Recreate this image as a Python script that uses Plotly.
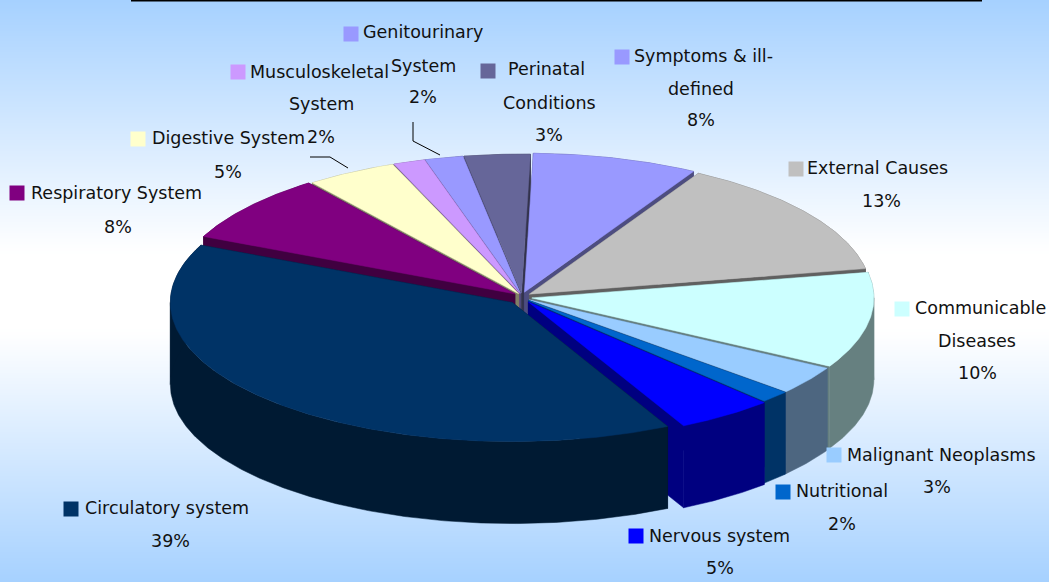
import numpy as np
import plotly.graph_objects as go

# Clockwise from 12 o'clock
categories = ["Symptoms & ill-defined", "External Causes", "Communicable Diseases", "Malignant Neoplasms",
              "Nutritional", "Nervous system", "Circulatory system", "Respiratory System",
              "Digestive System", "Musculoskeletal System", "Genitourinary System", "Perinatal Conditions"]
# Printed percentages
percent_labels = ["8%", "13%", "10%", "3%", "2%", "5%", "39%", "8%", "5%", "2%", "2%", "3%"]
# Slice shares as they measure on the picture (the 3-D tilt widens some)
shares = [7.8, 13.8, 11.1, 3.3, 1.4, 4.6, 39.2, 7.9, 4.3, 1.5, 1.8, 3.1]
top_colors = ["#9999FF", "#C0C0C0", "#CCFFFF", "#99CCFF", "#0066CC", "#0000FF",
              "#003366", "#800080", "#FFFFCC", "#CC99FF", "#9999FF", "#666699"]
wall_colors = ["#4D4D80", "#606060", "#668080", "#4D6680", "#003366", "#000080",
               "#001A33", "#400040", "#808066", "#664D80", "#4D4D80", "#33334D"]
explode = [9, 9, 10, 9, 9, 11, 14, 9, 7, 7, 7, 7]
draw_order = [11, 0, 10, 9, 1, 8, 7, 2, 3, 4, 5, 6]

label_lines = [
    ["Symptoms & ill-", "defined"], ["External Causes"], ["Communicable", "Diseases"],
    ["Malignant Neoplasms"], ["Nutritional"], ["Nervous system"], ["Circulatory system"],
    ["Respiratory System"], ["Digestive System"], ["Musculoskeletal", "System"],
    ["Genitourinary", "System"], ["Perinatal", "Conditions"],
]
key_xy = [(622, 57), (796, 169), (902, 309), (834, 455), (783, 492), (636, 536),
          (71, 509), (17, 193), (138, 139), (238, 72), (351, 34), (488, 71)]
first_line_x = [632, 805, 913, 845, 794, 647, 83, 29, 150, 248, 361, 506]
first_line_y = [56, 168, 308, 455, 491, 536, 508, 193, 138, 72, 32, 69]
center_x = [701, 881, 977, 937, 842, 720, 170, 118, 228, 321, 423, 549]
more_y = [[89, 120], [201], [341, 373], [487], [524], [568], [541], [227], [172],
          [104, 137], [66, 97], [103, 135]]

CX, CY, RX, RY, DEPTH, START = 522, 297, 342, 139, 82, 1.5
W, H = 1049, 582

fig = go.Figure()

# background gradient
gy = np.linspace(0, H, 60)
fig.add_trace(go.Heatmap(x=[0, W], y=gy,
                         z=[[max(0, abs(v - 291) - 40) / 251] * 2 for v in gy],
                         colorscale=[[0, "#FFFFFF"], [1, "#A6D1FF"]], zmin=0, zmax=1,
                         zsmooth="best", showscale=False, hoverinfo="skip"))

frac = np.array(shares) / sum(shares) * 360
ends = START + np.cumsum(frac)
starts = ends - frac


def poly(xs, ys, color):
    fig.add_trace(go.Scatter(x=list(xs) + [xs[0]], y=list(ys) + [ys[0]], mode="lines", fill="toself",
                             fillcolor=color, line=dict(color=color, width=0.5),
                             hoverinfo="skip", showlegend=False))


for i in draw_order:
    a = np.radians(np.linspace(starts[i], ends[i], max(6, int(frac[i] * 2))))
    mid = np.radians((starts[i] + ends[i]) / 2)
    ox = CX + explode[i] * np.sin(mid)
    oy = CY - 0.55 * explode[i] * np.cos(mid)
    ax = ox + RX * np.sin(a)
    ay = oy - RY * np.cos(a)
    # radial faces
    for k in (0, -1):
        poly([ox, ax[k], ax[k], ox], [oy, ay[k], ay[k] + DEPTH, oy + DEPTH], wall_colors[i])
    # outer wall, split at the left and right extremes so its outline never crosses itself
    cuts = [starts[i]] + [c for c in (90, 270) if starts[i] < c < ends[i]] + [ends[i]]
    for c0, c1 in zip(cuts[:-1], cuts[1:]):
        b = np.radians(np.linspace(c0, c1, max(4, int((c1 - c0) * 2))))
        bx = ox + RX * np.sin(b)
        by = oy - RY * np.cos(b)
        poly(np.r_[bx, bx[::-1]], np.r_[by, by[::-1] + DEPTH], wall_colors[i])
    # top
    poly(np.r_[ox, ax], np.r_[oy, ay], top_colors[i])

# legend keys
fig.add_trace(go.Scatter(x=[p[0] for p in key_xy], y=[p[1] for p in key_xy], mode="markers",
                         marker=dict(symbol="square", size=15, color=top_colors, line=dict(width=0)),
                         hoverinfo="skip", showlegend=False))

# leader lines and top rule
leaders = [([310, 330, 348], [157, 157, 168]), ([413, 413, 440], [122, 141, 155])]
for lx, ly in leaders:
    fig.add_trace(go.Scatter(x=lx, y=ly, mode="lines", line=dict(color="black", width=1),
                             hoverinfo="skip", showlegend=False))
fig.add_trace(go.Scatter(x=[131, 982], y=[0.5, 0.5], mode="lines", line=dict(color="black", width=2),
                         hoverinfo="skip", showlegend=False))

FONT = dict(family="DejaVu Sans", size=17.5, color="#111111")
for i in range(len(categories)):
    fig.add_annotation(x=first_line_x[i], y=first_line_y[i], text=label_lines[i][0], xanchor="left",
                       yanchor="middle", showarrow=False, font=FONT)
    rest = label_lines[i][1:] + [percent_labels[i]]
    for t, y in zip(rest, more_y[i]):
        fig.add_annotation(x=center_x[i], y=y, text=t, xanchor="center", yanchor="middle",
                           showarrow=False, font=FONT)

fig.update_layout(width=W, height=H, margin=dict(l=0, r=0, t=0, b=0), showlegend=False,
                  paper_bgcolor="white", plot_bgcolor="white",
                  xaxis=dict(range=[0, W], visible=False, fixedrange=True),
                  yaxis=dict(range=[H, 0], visible=False, fixedrange=True))
fig.write_html("out.html", config={"displayModeBar": False},
               post_script="document.body.style.margin='0';document.body.style.overflow='hidden';")
